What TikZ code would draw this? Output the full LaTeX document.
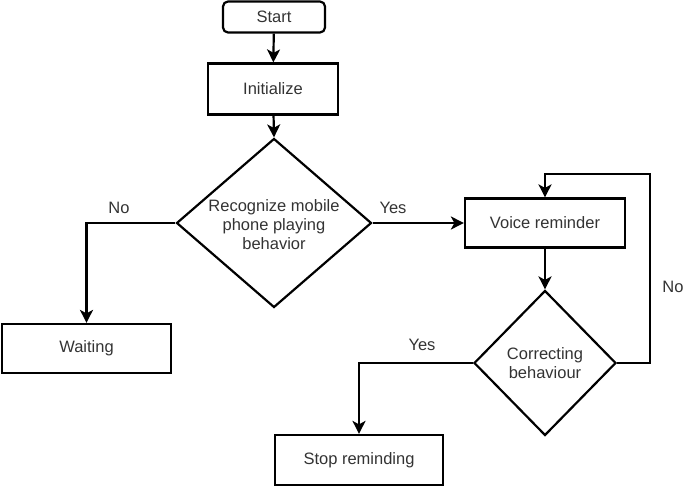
\documentclass[tikz,border=0pt]{standalone}
\usepackage{fontspec}
\setmainfont{Liberation Sans}
\usetikzlibrary{arrows.meta,shapes.geometric}
\begin{document}
\begin{tikzpicture}[x=1pt,y=-1pt,line width=2.2pt,
  every node/.style={font=\fontsize{16.5}{19}\selectfont, text=black!80},
  box/.style={draw=black, rectangle, inner sep=0pt},
  dia/.style={draw=black, diamond, inner sep=0pt},
  arr/.style={-{Stealth[length=13pt,width=13pt,inset=3.5pt]}},
  lbl/.style={inner sep=0pt}]
\useasboundingbox (0,0) rectangle (685,486);
\node[box, rounded corners=5pt, minimum width=102pt, minimum height=31pt] (start) at (274,17) {Start};
\node[box, minimum width=130pt, minimum height=51pt] (init) at (273,89) {Initialize};
\node[dia, minimum width=195pt, minimum height=169pt,
  label={[align=center,yshift=-2pt,font=\fontsize{16.5}{19}\selectfont,text=black!80]center:Recognize mobile\\phone playing\\behavior}] (d1) at (274,223) {};
\node[box, minimum width=169pt, minimum height=49pt] (wait) at (86.5,348.5) {Waiting};
\node[box, minimum width=160pt, minimum height=49pt] (voice) at (545,223) {Voice reminder};
\node[dia, minimum width=142pt, minimum height=145pt,
  label={[align=center,font=\fontsize{16.5}{19}\selectfont,text=black!80]center:Correcting\\behaviour}] (d2) at (545,363) {};
\node[box, minimum width=168pt, minimum height=50pt] (stop) at (359,460) {Stop reminding};
\coordinate (loop) at (650,174);
\draw[arr] (start) -- (init);
\draw[arr] (init) -- (d1.north);
\draw[arr] (d1.west) -| (wait.north);
\draw[arr] (d1.east) -- (voice.west);
\draw[arr] (voice.south) -- (d2.north);
\draw[arr] (d2.east) -| (loop) -| (voice.north);
\draw[arr] (d2.west) -| (stop.north);
\node[lbl] (l1) at (119,208) {No};
\node[lbl] (l2) at (393,208) {Yes};
\node[lbl] (l3) at (673,287) {No};
\node[lbl] (l4) at (422,345) {Yes};
\end{tikzpicture}
\end{document}
